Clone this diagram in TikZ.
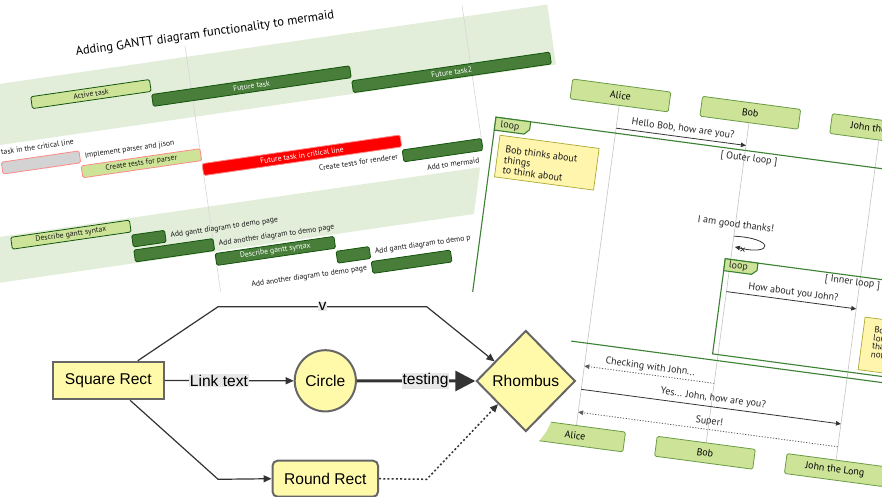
\documentclass[tikz,border=0pt]{standalone}
\usepackage{fontspec}
\setmainfont{Liberation Sans}
\newfontfamily\gfont{PT Sans}
\usetikzlibrary{arrows.meta,shapes.geometric,calc}
\definecolor{band}{HTML}{E2EEDA}
\definecolor{taskfill}{HTML}{487E3A}
\definecolor{taskline}{HTML}{13540C}
\definecolor{actfill}{HTML}{CDE498}
\definecolor{critline}{HTML}{FF8888}
\definecolor{donefill}{HTML}{D3D3D3}
\definecolor{critfill}{HTML}{FF0000}
\definecolor{gridc}{HTML}{D6D6D6}
\definecolor{actorline}{HTML}{6B9B45}
\definecolor{loopc}{HTML}{3B8132}
\definecolor{notefill}{HTML}{FFF5AD}
\definecolor{noteline}{HTML}{AAAA33}
\definecolor{lifec}{HTML}{C4C4C4}
\definecolor{msgc}{HTML}{333333}
\definecolor{fnodefill}{HTML}{FFFAAA}
\definecolor{fnodeline}{HTML}{666666}
\definecolor{labelbg}{HTML}{E8E8E8}
\definecolor{fbg}{HTML}{FFFFFF}
\newcommand{\gbr}[4]{\draw[#4] (#2,{85+15.14*#1}) rectangle (#3,{97+15.14*#1});}
\begin{document}
\begin{tikzpicture}[x=1pt,y=-1pt,
  glab/.style={font=\fontsize{7.7}{8}\gfont, inner sep=0pt, text=black!90},
  gtitle/.style={font=\fontsize{12.5}{14}\gfont, inner sep=0pt, text=black},
  barbase/.style={rounded corners=1.5pt, line width=0.8pt},
  actbar/.style={barbase, fill=actfill, draw=taskline},
  normbar/.style={barbase, fill=taskfill, draw=taskline},
  critdone/.style={barbase, fill=donefill, draw=critline},
  critact/.style={barbase, fill=actfill, draw=critline},
  critbar/.style={barbase, fill=critfill, draw=critline},
  stext/.style={font=\fontsize{10}{12}\gfont, inner sep=0pt, text=black!85},
  ntext/.style={font=\fontsize{10}{12}\gfont, inner sep=0pt, text=black!90, anchor=base west},
  actor/.style={draw=actorline, fill=actfill, line width=0.8pt, rounded corners=1.5pt,
     minimum width=99pt, minimum height=20pt, inner sep=0pt, font=\fontsize{10}{12}\gfont},
  life/.style={draw=lifec, line width=0.6pt},
  loopl/.style={draw=loopc, line width=1.1pt},
  notebox/.style={draw=noteline, fill=notefill, line width=0.7pt, inner sep=0pt},
  msg/.style={draw=msgc, line width=0.8pt, -{Triangle[length=5pt,width=4.5pt]}},
  dmsg/.style={msg, draw=msgc!80, dash pattern=on 1.2pt off 1.6pt},
  fnode/.style={draw=fnodeline, fill=fnodefill, line width=2pt, inner sep=0pt,
     font=\fontsize{15.6}{18}\selectfont},
  fedge/.style={draw=msgc, line width=1.2pt, -{Triangle[length=8pt,width=7pt]}},
  fthick/.style={draw=msgc, line width=3pt, -{Triangle[length=20pt,width=20pt]}},
  fdot/.style={fedge, dash pattern=on 2pt off 2.2pt, line width=1.5pt},
  flab/.style={fill=labelbg, inner sep=0.6pt, font=\fontsize{15.6}{18}\selectfont, text=black}
]
\useasboundingbox (0,0) rectangle (882,497);
\clip (0,0) rectangle (882,497);

% ---------------- Gantt chart ----------------
\begin{scope}[rotate=8.25, transform shape]
  \fill[band] (-200,83) rectangle (541,143.56);
  \fill[band] (-200,234.4) rectangle (541,279.82);
  \draw[gridc, line width=0.6pt] (176.5,72) -- (176.5,333);
  \draw[gridc, line width=0.6pt] (456.5,72) -- (456.5,333);
  \node[gtitle] (gtitle) at (198,63.2) {Adding GANTT diagram functionality to mermaid};
  \gbr{1}{16.5}{136.5}{actbar}
  \node[glab] (t1) at (76.5,{91+15.14*1}) {Active task};
  \gbr{2}{136.5}{336.5}{normbar}
  \node[glab,text=white] (t2) at (236.5,{91+15.14*2}) {Future task};
  \gbr{3}{336.5}{536.5}{normbar}
  \node[glab,text=white] (t3) at (436.5,{91+15.14*3}) {Future task2};
  \node[glab,anchor=west] (t4) at (-58.5,{91+15.14*4}) {Completed task in the critical line};
  \gbr{5}{-22}{56.5}{critdone}
  \node[glab,anchor=west] (t5) at (61.5,{91+15.14*5}) {Implement parser and jison};
  \gbr{6}{56.5}{176.5}{critact}
  \node[glab] (t6) at (116.5,{91+15.14*6}) {Create tests for parser};
  \gbr{7}{176.5}{376.5}{critbar}
  \node[glab,text=white] (t7) at (276.5,{91+15.14*7}) {Future task in critical line};
  \gbr{8}{376.5}{456.5}{normbar}
  \node[glab,anchor=east] (t8) at (371.5,{91+15.14*8}) {Create tests for renderer};
  \node[glab,anchor=east] (t9) at (451.5,{91+15.14*9}) {Add to mermaid};
  \gbr{10}{-23.5}{96.5}{actbar}
  \node[glab] (t10) at (36.5,{91+15.14*10}) {Describe gantt syntax};
  \gbr{11}{96.5}{129.8}{normbar}
  \node[glab,anchor=west] (t11) at (134.8,{91+15.14*11}) {Add gantt diagram to demo page};
  \gbr{12}{96.5}{176.5}{normbar}
  \node[glab,anchor=west] (t12) at (181.5,{91+15.14*12}) {Add another diagram to demo page};
  \gbr{13}{176.5}{296.5}{normbar}
  \node[glab,text=white] (t13) at (236.5,{91+15.14*13}) {Describe gantt syntax};
  \gbr{14}{296.5}{329.8}{normbar}
  \node[glab,anchor=west] (t14) at (334.8,{91+15.14*14}) {Add gantt diagram to demo page};
  \gbr{15}{329.8}{409.8}{normbar}
  \node[glab,anchor=east] (t15) at (324.8,{91+15.14*15}) {Add another diagram to demo page};
\end{scope}

% ---------------- Sequence diagram ----------------
\begin{scope}[shift={(572.7,79)}, rotate=-7.6, transform shape]
  \fill[white] (-80,10) -- (-10,-5) -- (700,-5) -- (700,430) -- (-80,430) -- cycle;
  % actors
  \node[actor] (aT) at (49.5,10) {Alice};
  \node[actor] (bT) at (180.5,10) {Bob};
  \node[actor] (jT) at (311.5,10) {John the Long};
  \node[actor] (aB) at (49.5,353) {Alice};
  \node[actor] (bB) at (180.5,353) {Bob};
  \node[actor] (jB) at (311.5,353) {John the Long};
  \draw[life] (aT.south) -- (aB.north);
  \draw[life] (bT.south) -- (bB.north);
  \draw[life] (jT.south) -- (jB.north);
  % outer loop
  \draw[loopl] (460,48) -- (-71,48) -- (-71,260) -- (460,260);
  \draw[loopl, fill=actfill] (-71,48) -- (-36,48) -- (-36,56) -- (-41,61) -- (-71,61) -- cycle;
  \node[stext] (lp1) at (-56,55) {loop};
  \node[stext] (lp1t) at (185.3,56) {[ Outer loop ]};
  % note left of Alice
  \node[notebox, minimum width=100pt, minimum height=42pt, anchor=north west] (n1) at (-65,65) {};
  \node[ntext] (n1a) at (-57.5,82) {Bob thinks about};
  \node[ntext] (n1b) at (-57.5,92.5) {things};
  \node[ntext] (n1c) at (-57.5,102.8) {to think about};
  % message 1
  \coordinate (m1a) at (49.5,43);
  \coordinate (m1b) at (180.5,43);
  \draw[msg] (m1a) -- (m1b);
  \node[stext] (m1t) at (116,35) {Hello Bob, how are you?};
  % self message
  \node[stext] (m2t) at (181,123) {I am good thanks!};
  \coordinate (m2a) at (180.5,134.5);
  \coordinate (m2b) at (183,145);
  \draw[msg] (m2a) .. controls (222,131) and (222,149) .. (m2b);
  \draw[draw=msgc, line width=0.7pt] (189,144.5) -- (193,148.5) (189,148.5) -- (193,144.5);
  % inner loop
  \draw[loopl] (480,158) -- (175,158) -- (175,254) -- (480,254);
  \draw[loopl, fill=actfill] (175,158) -- (208,158) -- (208,165.5) -- (203,170) -- (175,170) -- cycle;
  \node[stext] (lp2) at (189,164) {loop};
  \node[stext] (lp2t) at (304.2,164.7) {[ Inner loop ]};
  \coordinate (m3a) at (180.5,190.4);
  \coordinate (m3b) at (311.5,190.4);
  \draw[msg] (m3a) -- (m3b);
  \node[stext] (m3t) at (247,182.6) {How about you John?};
  % note right of John
  \node[notebox, minimum width=150pt, minimum height=53pt, anchor=north west] (n2) at (321,197) {};
  \node[ntext, font=\fontsize{9}{10}\gfont] (n2a) at (332,211.5) {Bob thinks a long};
  \node[ntext, font=\fontsize{9}{10}\gfont] (n2b) at (332,219.7) {long time, so long};
  \node[ntext, font=\fontsize{9}{10}\gfont] (n2c) at (332,228) {that the text does};
  \node[ntext, font=\fontsize{9}{10}\gfont] (n2d) at (332,236.2) {not fit on a row.};
  % after loops
  \coordinate (m4a) at (180.5,283);
  \coordinate (m4b) at (49.5,283);
  \draw[dmsg] (m4a) -- (m4b);
  \node[stext] (m4t) at (115,275.5) {Checking with John...};
  \coordinate (m5a) at (49.5,306.5);
  \coordinate (m5b) at (311.5,306.5);
  \draw[msg] (m5a) -- (m5b);
  \node[stext] (m5t) at (181.5,298) {Yes... John, how are you?};
  \coordinate (m6a) at (311.5,329.5);
  \coordinate (m6b) at (49.5,329.5);
  \draw[dmsg] (m6a) -- (m6b);
  \node[stext] (m6t) at (180.7,321.6) {Super!};
\end{scope}

% ---------------- Flowchart ----------------
\fill[fbg] (0,360) -- (22,322) -- (70,299) -- (200,292) -- (468,290) -- (572,335) -- (562,400)
   -- (546,432) -- (518,468) -- (468,497) -- (0,497) -- cycle;
\node[fnode, minimum width=111pt, minimum height=37.6pt] (sq) at (108.3,380.5) {Square Rect};
\node[fnode, circle, minimum size=61.2pt] (circ) at (325.3,380.8) {Circle};
\node[fnode, diamond, aspect=1, minimum width=99pt, minimum height=101pt] (rh) at (525.8,381) {Rhombus};
\node[fnode, rounded corners=5pt, minimum width=105.5pt, minimum height=36pt] (rr) at (325.3,478.7) {Round Rect};
\coordinate (sqt) at ([xshift=29.5pt]sq.north);
\coordinate (sqb) at ([xshift=21.8pt]sq.south);
\coordinate (tb1) at (218.1,306.7);
\coordinate (tb2) at (426.7,306.7);
\coordinate (bb1) at (218.1,479.3);
\coordinate (db1) at (426.7,479.3);
\coordinate (rhul) at ($(rh.west)!0.38!(rh.north)$);
\coordinate (rhll) at ($(rh.west)!0.45!(rh.south)$);
\draw[fedge] (sqt) -- (tb1) -- node[flab] (lv) {v} (tb2) -- (rhul);
\draw[fedge] (sq.east) -- node[flab, pos=0.42] (llink) {Link text} (circ.west);
\draw[fthick] (circ.east) -- node[flab, pos=0.58] (ltest) {testing} (rh.west);
\draw[fedge] (sqb) -- (bb1) -- (rr.west);
\draw[fdot] (rr.east) -- (db1) -- (rhll);
\end{tikzpicture}
\end{document}
